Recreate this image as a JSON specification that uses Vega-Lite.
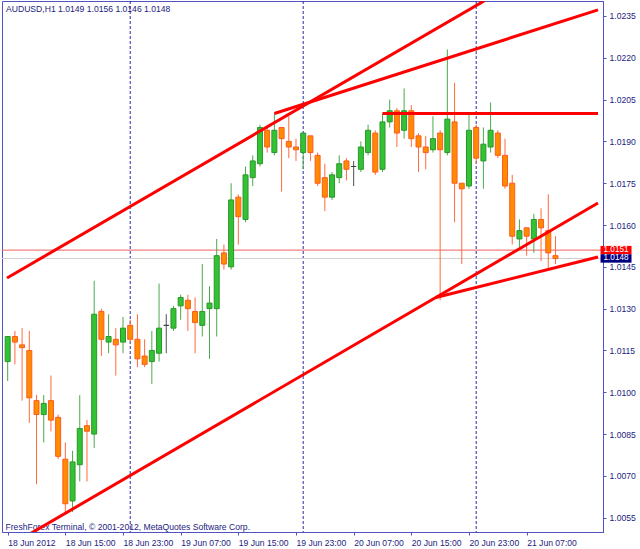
{
  "$schema": "https://vega.github.io/schema/vega-lite/v6.json",
  "width": 601,
  "height": 531,
  "autosize": "none",
  "padding": {"left": 2, "top": 1, "right": 37, "bottom": 17},
  "background": "white",
  "title": {"text": "AUDUSD,H1  1.0149 1.0156 1.0146 1.0148", "anchor": "start", "frame": "group", "orient": "top", "offset": -20, "baseline": "alphabetic", "dx": 4, "font": "Liberation Sans", "fontSize": 8.6, "fontWeight": "normal", "color": "#1c1c80"},
  "config": {
    "view": {"stroke": "#5252c0", "strokeWidth": 1},
    "axis": {"labelFont": "Liberation Sans", "labelFontSize": 8.6, "labelColor": "#1c1c80", "domainColor": "#5252c0", "tickColor": "#5252c0", "grid": false}
  },
  "datasets": {
    "candles": [
      {"h":0,"o":1.0111,"hi":1.0120,"lo":1.0104,"c":1.0120},
      {"h":1,"o":1.0120,"hi":1.0122,"lo":1.0110,"c":1.0118},
      {"h":2,"o":1.0117,"hi":1.0123,"lo":1.0097,"c":1.0116},
      {"h":3,"o":1.0115,"hi":1.0122,"lo":1.0089,"c":1.0098},
      {"h":4,"o":1.0097,"hi":1.0099,"lo":1.0067,"c":1.0092},
      {"h":5,"o":1.0092,"hi":1.0099,"lo":1.0082,"c":1.0096},
      {"h":6,"o":1.0097,"hi":1.0106,"lo":1.0086,"c":1.0090},
      {"h":7,"o":1.0091,"hi":1.0092,"lo":1.0076,"c":1.0077},
      {"h":8,"o":1.0076,"hi":1.0082,"lo":1.0056,"c":1.0060},
      {"h":9,"o":1.0061,"hi":1.0079,"lo":1.0057,"c":1.0075},
      {"h":10,"o":1.0074,"hi":1.0099,"lo":1.0068,"c":1.0087},
      {"h":11,"o":1.0088,"hi":1.0090,"lo":1.0068,"c":1.0086},
      {"h":12,"o":1.0085,"hi":1.0140,"lo":1.0080,"c":1.0128},
      {"h":13,"o":1.0129,"hi":1.0130,"lo":1.0113,"c":1.0119},
      {"h":14,"o":1.0118,"hi":1.0128,"lo":1.0114,"c":1.0120},
      {"h":15,"o":1.0119,"hi":1.0123,"lo":1.0106,"c":1.0117},
      {"h":16,"o":1.0118,"hi":1.0127,"lo":1.0114,"c":1.0123},
      {"h":17,"o":1.0124,"hi":1.0126,"lo":1.0118,"c":1.0119},
      {"h":18,"o":1.0119,"hi":1.0128,"lo":1.0109,"c":1.0112},
      {"h":19,"o":1.0113,"hi":1.0119,"lo":1.0109,"c":1.0110},
      {"h":20,"o":1.0111,"hi":1.0122,"lo":1.0103,"c":1.0115},
      {"h":21,"o":1.0114,"hi":1.0139,"lo":1.0111,"c":1.0123},
      {"h":22,"o":1.0124,"hi":1.0128,"lo":1.0114,"c":1.0124},
      {"h":23,"o":1.0123,"hi":1.0131,"lo":1.0122,"c":1.0130},
      {"h":24,"o":1.0131,"hi":1.0135,"lo":1.0126,"c":1.0134},
      {"h":25,"o":1.0133,"hi":1.0135,"lo":1.0122,"c":1.0130},
      {"h":26,"o":1.0129,"hi":1.0134,"lo":1.0114,"c":1.0125},
      {"h":27,"o":1.0124,"hi":1.0146,"lo":1.0120,"c":1.0129},
      {"h":28,"o":1.0130,"hi":1.0138,"lo":1.0112,"c":1.0132},
      {"h":29,"o":1.0130,"hi":1.0155,"lo":1.0120,"c":1.0149},
      {"h":30,"o":1.0150,"hi":1.0153,"lo":1.0144,"c":1.0146},
      {"h":31,"o":1.0145,"hi":1.0175,"lo":1.0144,"c":1.0169},
      {"h":32,"o":1.0170,"hi":1.0171,"lo":1.0153,"c":1.0163},
      {"h":33,"o":1.0162,"hi":1.0181,"lo":1.0161,"c":1.0178},
      {"h":34,"o":1.0177,"hi":1.0185,"lo":1.0174,"c":1.0183},
      {"h":35,"o":1.0182,"hi":1.0196,"lo":1.0181,"c":1.0195},
      {"h":36,"o":1.0194,"hi":1.0195,"lo":1.0186,"c":1.0188},
      {"h":37,"o":1.0186,"hi":1.0200,"lo":1.0185,"c":1.0194},
      {"h":38,"o":1.0195,"hi":1.0195,"lo":1.0172,"c":1.0191},
      {"h":39,"o":1.0190,"hi":1.0199,"lo":1.0184,"c":1.0188},
      {"h":40,"o":1.0188,"hi":1.0191,"lo":1.0183,"c":1.0187},
      {"h":41,"o":1.0186,"hi":1.0193,"lo":1.0180,"c":1.0193},
      {"h":42,"o":1.0192,"hi":1.0192,"lo":1.0183,"c":1.0186},
      {"h":43,"o":1.0185,"hi":1.0186,"lo":1.0174,"c":1.0175},
      {"h":44,"o":1.0177,"hi":1.0182,"lo":1.0165,"c":1.0170},
      {"h":45,"o":1.0170,"hi":1.0179,"lo":1.0169,"c":1.0178},
      {"h":46,"o":1.0177,"hi":1.0185,"lo":1.0175,"c":1.0182},
      {"h":47,"o":1.0183,"hi":1.0184,"lo":1.0176,"c":1.0180},
      {"h":48,"o":1.0181,"hi":1.0183,"lo":1.0174,"c":1.0181},
      {"h":49,"o":1.0180,"hi":1.0190,"lo":1.0179,"c":1.0188},
      {"h":50,"o":1.0186,"hi":1.0196,"lo":1.0185,"c":1.0194},
      {"h":51,"o":1.0193,"hi":1.0194,"lo":1.0178,"c":1.0179},
      {"h":52,"o":1.0180,"hi":1.0200,"lo":1.0179,"c":1.0197},
      {"h":53,"o":1.0197,"hi":1.0205,"lo":1.0195,"c":1.0201},
      {"h":54,"o":1.0201,"hi":1.0202,"lo":1.0188,"c":1.0193},
      {"h":55,"o":1.0194,"hi":1.0209,"lo":1.0191,"c":1.0201},
      {"h":56,"o":1.0201,"hi":1.0203,"lo":1.0188,"c":1.0191},
      {"h":57,"o":1.0192,"hi":1.0193,"lo":1.0179,"c":1.0188},
      {"h":58,"o":1.0188,"hi":1.0192,"lo":1.0180,"c":1.0186},
      {"h":59,"o":1.0187,"hi":1.0199,"lo":1.0186,"c":1.0191},
      {"h":60,"o":1.0193,"hi":1.0194,"lo":1.0133,"c":1.0187},
      {"h":61,"o":1.0186,"hi":1.0223,"lo":1.0185,"c":1.0198},
      {"h":62,"o":1.0197,"hi":1.0211,"lo":1.0161,"c":1.0175},
      {"h":63,"o":1.0175,"hi":1.0175,"lo":1.0146,"c":1.0173},
      {"h":64,"o":1.0174,"hi":1.0200,"lo":1.0173,"c":1.0194},
      {"h":65,"o":1.0195,"hi":1.0196,"lo":1.0182,"c":1.0184},
      {"h":66,"o":1.0183,"hi":1.0195,"lo":1.0173,"c":1.0189},
      {"h":67,"o":1.0188,"hi":1.0204,"lo":1.0186,"c":1.0194},
      {"h":68,"o":1.0193,"hi":1.0194,"lo":1.0184,"c":1.0185},
      {"h":69,"o":1.0185,"hi":1.0191,"lo":1.0173,"c":1.0174},
      {"h":70,"o":1.0175,"hi":1.0178,"lo":1.0153,"c":1.0156},
      {"h":71,"o":1.0155,"hi":1.0162,"lo":1.0152,"c":1.0158},
      {"h":72,"o":1.0159,"hi":1.0159,"lo":1.0149,"c":1.0156},
      {"h":73,"o":1.0155,"hi":1.0164,"lo":1.0150,"c":1.0162},
      {"h":74,"o":1.0162,"hi":1.0166,"lo":1.0147,"c":1.0159},
      {"h":75,"o":1.0158,"hi":1.0171,"lo":1.0144,"c":1.0150},
      {"h":76,"o":1.0149,"hi":1.0156,"lo":1.0146,"c":1.0148}
    ],
    "trendlines": [
      {"id":"A","h":2.5,"p":1.00483},
      {"id":"A","h":81.9,"p":1.01679},
      {"id":"B","h":-0.095,"p":1.01410},
      {"id":"B","h":66.1,"p":1.02404},
      {"id":"C","h":37,"p":1.0200},
      {"id":"C","h":81.9,"p":1.02372},
      {"id":"D","h":52,"p":1.0200},
      {"id":"D","h":81.9,"p":1.0200},
      {"id":"E","h":59.4,"p":1.0134},
      {"id":"E","h":81.9,"p":1.01485}
    ],
    "separators": [{"h":17},{"h":41},{"h":65}],
    "tags": [
      {"p":1.0151,"label":"1.0151","kind":"line"},
      {"p":1.0148,"label":"1.0148","kind":"bid"}
    ]
  },
  "layer": [
    {
      "data": {"name": "separators"},
      "mark": {"type": "rule", "color": "#2a2aa8", "strokeWidth": 1, "strokeDash": [3, 2]},
      "encoding": {
        "x": {"field": "h", "type": "quantitative", "scale": {"domain": [-0.095, 81.9], "nice": false, "zero": false},
          "axis": {"orient": "bottom", "values": [0,8,16,24,32,40,48,56,64,72],
            "labelExpr": "['18 Jun 2012','18 Jun 15:00','18 Jun 23:00','19 Jun 07:00','19 Jun 15:00','19 Jun 23:00','20 Jun 07:00','20 Jun 15:00','20 Jun 23:00','21 Jun 07:00'][round(datum.value/8)]",
            "labelAlign": "left", "labelBaseline": "top", "labelPadding": 3, "tickSize": 3, "labelOverlap": false, "labelFlush": false, "labelBound": false,
            "title": "FreshForex Terminal, © 2001-2012, MetaQuotes Software Corp.", "titleAnchor": "start", "titleAlign": "left", "titleX": 3, "titleY": -3, "titleBaseline": "alphabetic",
            "titleFont": "Liberation Sans", "titleFontSize": 8.6, "titleFontWeight": "normal", "titleColor": "#1c1c80"}}
      }
    },
    {
      "data": {"name": "tags"},
      "mark": {"type": "rule", "strokeWidth": 1},
      "encoding": {
        "y": {"field": "p", "type": "quantitative", "scale": {"domain": [1.004986, 1.024038], "nice": false, "zero": false},
          "axis": {"orient": "right", "values": [1.0055,1.0070,1.0085,1.0100,1.0115,1.0130,1.0145,1.0160,1.0175,1.0190,1.0205,1.0220,1.0235],
            "format": ".4f", "tickSize": 3, "labelPadding": 3, "labelAlign": "left", "labelBaseline": "middle", "labelOverlap": false, "labelBound": false, "labelFlush": false, "title": null}},
        "color": {"field": "kind", "type": "nominal", "scale": {"domain": ["line", "bid"], "range": ["#f06060", "#d0d0d0"]}, "legend": null}
      }
    },
    {
      "data": {"name": "candles"},
      "mark": {"type": "rule", "strokeWidth": 1},
      "encoding": {
        "x": {"field": "h", "type": "quantitative"},
        "y": {"field": "lo", "type": "quantitative"},
        "y2": {"field": "hi"},
        "color": {"condition": [{"test": "datum.c > datum.o", "value": "#4aaa4a"}, {"test": "datum.c < datum.o", "value": "#ff6a3a"}], "value": "#505050"}
      }
    },
    {
      "data": {"name": "candles"},
      "mark": {"type": "bar", "size": 5, "strokeWidth": 1},
      "encoding": {
        "x": {"field": "h", "type": "quantitative"},
        "y": {"field": "o", "type": "quantitative"},
        "y2": {"field": "c"},
        "fill": {"condition": [{"test": "datum.c > datum.o", "value": "#33c233"}, {"test": "datum.c < datum.o", "value": "#ff8c00"}], "value": "#505050"},
        "stroke": {"condition": [{"test": "datum.c > datum.o", "value": "#2a962a"}, {"test": "datum.c < datum.o", "value": "#ff5a1e"}], "value": "#404040"}
      }
    },
    {
      "data": {"name": "trendlines"},
      "mark": {"type": "line", "color": "#ff0000", "strokeWidth": 3, "clip": true},
      "encoding": {
        "x": {"field": "h", "type": "quantitative"},
        "y": {"field": "p", "type": "quantitative"},
        "detail": {"field": "id", "type": "nominal"}
      }
    },
    {
      "data": {"name": "tags"},
      "mark": {"type": "tick", "orient": "horizontal", "size": 31, "thickness": 8.4, "opacity": 1},
      "encoding": {
        "x": {"datum": 84.4, "type": "quantitative"},
        "y": {"field": "p", "type": "quantitative"},
        "color": {"field": "kind", "type": "nominal", "scale": {"domain": ["line", "bid"], "range": ["#ff0000", "#000080"]}, "legend": null}
      }
    },
    {
      "data": {"name": "tags"},
      "mark": {"type": "text", "color": "white", "font": "Liberation Sans", "fontSize": 8.2, "align": "center", "baseline": "middle"},
      "encoding": {
        "x": {"datum": 84.4, "type": "quantitative"},
        "y": {"field": "p", "type": "quantitative"},
        "text": {"field": "label"}
      }
    }
  ],
  "resolve": {"scale": {"color": "independent"}}
}
